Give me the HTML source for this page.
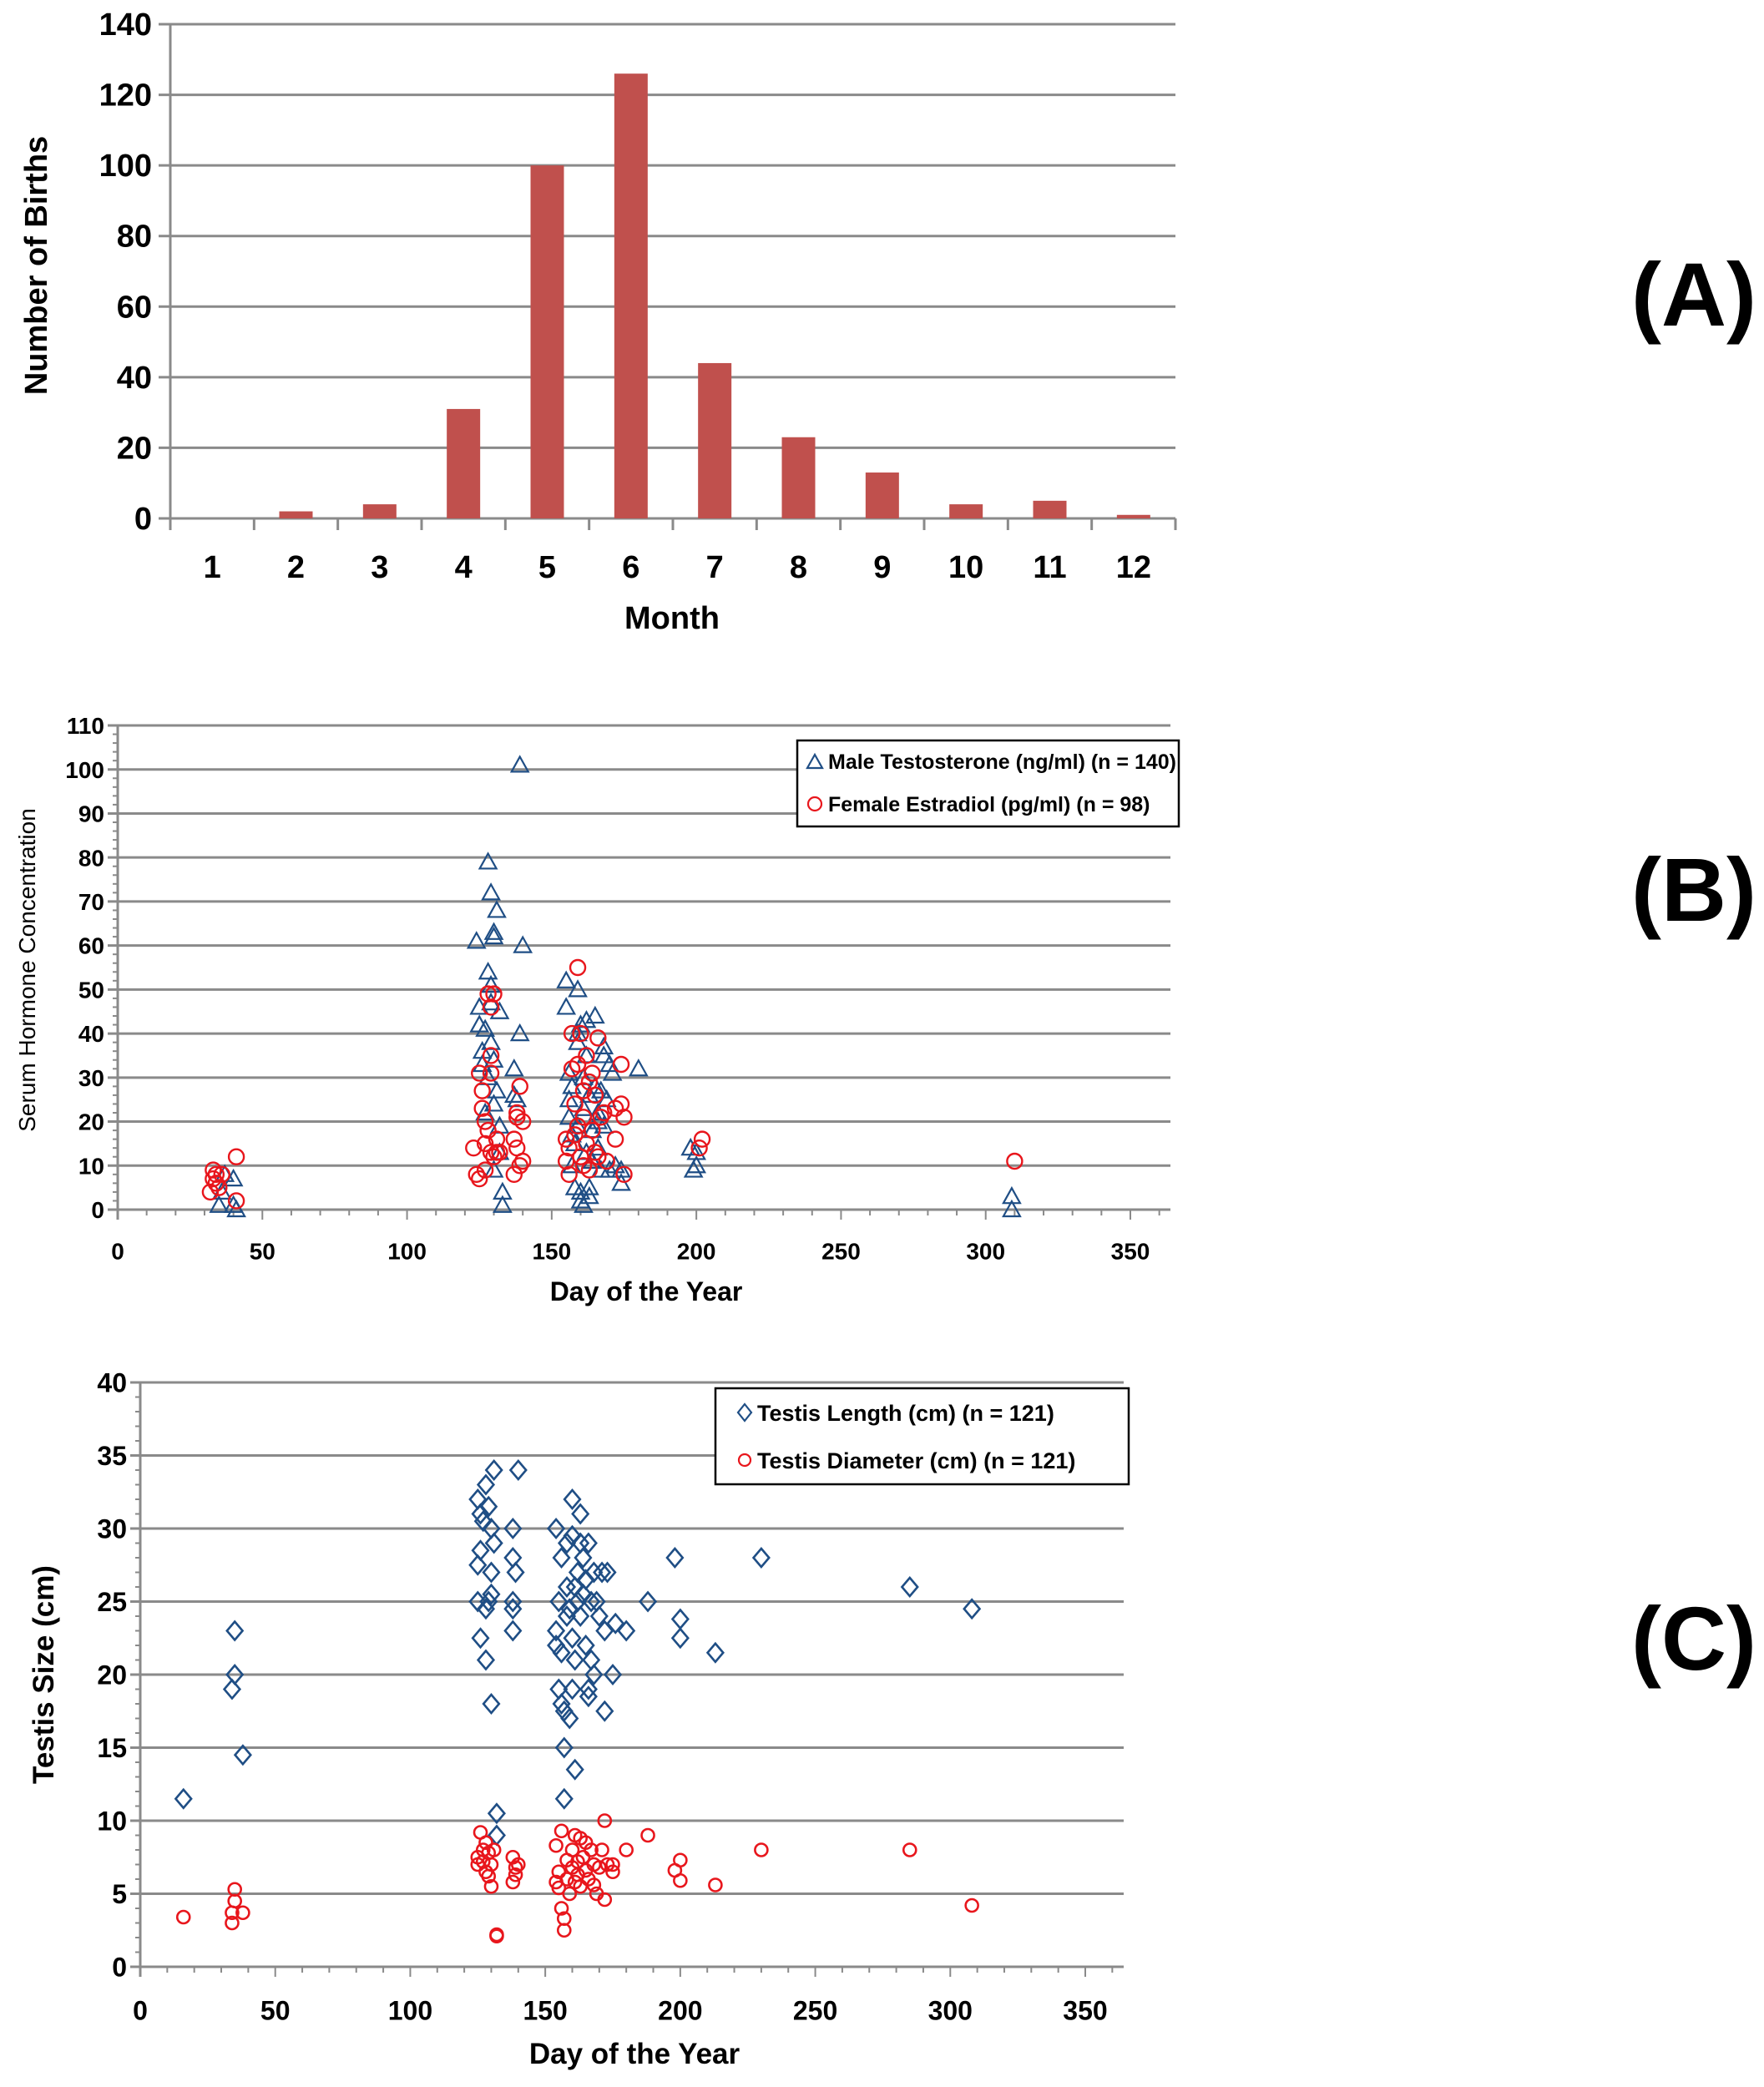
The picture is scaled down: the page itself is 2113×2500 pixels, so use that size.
<!DOCTYPE html>
<html><head><meta charset="utf-8"><style>
html,body{margin:0;padding:0;background:#fff;}
svg{display:block;font-family:"Liberation Sans",sans-serif;}
</style></head><body>
<svg id="fig" width="2113" height="2500" viewBox="0 0 2113 2500" xmlns="http://www.w3.org/2000/svg">
<g id="pa"></g>
<g id="pb"></g>
<g id="pc"></g>
<text x="1954" y="390" font-size="108" font-weight="bold">(A)</text>
<text x="1954" y="1103" font-size="108" font-weight="bold">(B)</text>
<text x="1954" y="2000" font-size="108" font-weight="bold">(C)</text>
</svg>
<script>
// Panel A data
const months = [1,2,3,4,5,6,7,8,9,10,11,12];
const births = [0,2,4,31,100,126,44,23,13,4,5,1];
const aTicks = [0,20,40,60,80,100,120,140];
// Panel B data
const maleT = [[35,1],[36,4],[37,8],[40,7],[40,1],[41,0],[124,61],[125,46],[125,42],[126,36],[126,33],[127,41],[128,54],[128,79],[129,51],[129,47],[129,72],[130,62],[130,63],[131,68],[129,38],[130,34],[131,27],[130,24],[132,45],[132,19],[133,4],[133,1],[132,13],[137,32],[137,26],[138,25],[139,40],[139,101],[140,60],[127,22],[128,30],[130,9],[155,52],[155,46],[156,31],[156,25],[156,21],[157,17],[157,10],[158,5],[159,50],[159,40],[159,38],[160,42],[160,2],[160,4],[161,1],[161,30],[162,43],[162,35],[163,26],[163,5],[163,3],[164,11],[165,44],[165,28],[166,22],[166,20],[167,9],[167,27],[168,37],[168,35],[169,25],[170,33],[170,9],[171,31],[172,10],[174,6],[174,9],[180,32],[158,15],[159,19],[162,13],[164,18],[157,28],[161,23],[166,14],[168,19],[198,14],[199,9],[200,10],[200,13],[309,3],[309,0]];
const femaleE = [[32,4],[33,9],[33,7],[34,6],[34,8],[35,5],[36,8],[41,12],[41,2],[123,14],[124,8],[125,7],[125,31],[126,23],[126,27],[127,20],[127,15],[127,9],[128,49],[128,18],[129,46],[129,13],[129,35],[129,31],[130,49],[130,12],[131,13],[131,16],[132,13],[137,16],[137,8],[138,14],[138,21],[139,28],[139,10],[140,20],[140,11],[138,22],[155,16],[155,11],[156,14],[156,8],[157,32],[157,40],[158,24],[158,17],[159,55],[159,33],[159,19],[160,40],[160,12],[161,27],[161,21],[162,35],[162,15],[163,29],[163,9],[164,31],[164,18],[165,13],[166,39],[166,12],[167,21],[168,22],[169,11],[172,16],[172,23],[174,33],[174,24],[175,21],[175,8],[165,26],[161,10],[201,14],[202,16],[310,11]];
const bYTicks = [0,10,20,30,40,50,60,70,80,90,100,110];
const xTicks = [0,50,100,150,200,250,300,350];
// Panel C data
const tLength = [[16,11.5],[34,19],[35,20],[35,23],[38,14.5],[125,32],[125,27.5],[125,25],[126,28.5],[126,31],[126,22.5],[127,30.5],[128,33],[128,24.5],[128,21],[129,31.5],[129,25],[130,30],[130,27],[130,25.5],[130,18],[131,34],[131,29],[132,10.5],[132,9],[138,30],[138,28],[138,25],[138,24.5],[138,23],[139,27],[140,34],[154,30],[154,23],[154,22],[155,25],[155,19],[156,28],[156,21.5],[156,18],[157,15],[157,11.5],[157,17.5],[158,24],[158,26],[158,29],[159,17],[159,24.5],[160,32],[160,29.5],[160,22.5],[160,19],[161,26],[161,21],[161,13.5],[162,25],[162,27],[163,31],[163,29],[163,24],[164,28],[164,25.5],[165,26.5],[165,22],[166,29],[166,19],[166,18.5],[167,25],[167,21],[168,20],[168,27],[169,25],[170,24],[171,27],[172,23],[172,17.5],[173,27],[175,20],[176,23.5],[180,23],[188,25],[198,28],[200,23.8],[200,22.5],[213,21.5],[230,28],[285,26],[308,24.5]];
const tDiam = [[16,3.4],[34,3],[34,3.7],[35,5.3],[35,4.5],[38,3.7],[125,7.5],[125,7],[126,9.2],[127,8],[127,7.2],[128,8.5],[128,6.5],[129,7.8],[129,6.2],[130,5.5],[130,7],[131,8],[132,2.2],[132,2.1],[138,7.5],[138,5.8],[139,6.8],[139,6.3],[140,7],[154,8.3],[154,5.8],[155,6.5],[155,5.4],[156,9.3],[156,4],[157,3.3],[157,2.5],[158,7.3],[158,6],[159,5],[160,8],[160,6.8],[161,9],[161,5.8],[162,7.2],[162,6.3],[163,8.8],[163,5.5],[164,7.5],[165,6.6],[165,8.5],[166,6],[167,8],[168,5.6],[168,7],[169,5],[170,6.8],[171,8],[172,10],[172,4.6],[173,7],[175,6.5],[175,7],[180,8],[188,9],[198,6.6],[200,7.3],[200,5.9],[213,5.6],[230,8],[285,8],[308,4.2]];
const cYTicks = [0,5,10,15,20,25,30,35,40];

const NS="http://www.w3.org/2000/svg";
function mk(parent,tag,attrs,txt){const e=document.createElementNS(NS,tag);for(const k in attrs)e.setAttribute(k,attrs[k]);if(txt!==undefined)e.textContent=txt;parent.appendChild(e);return e;}
const GRID="#8a8a8a", BLUE="#1f4e85", RED="#e8161c";

// ---------- Panel A ----------
(function(){
const g=document.getElementById('pa');
const L=204,R=1408,T=29,B=621,max=140;
const y=v=>B-(v/max)*(B-T);
const slot=(R-L)/months.length;
const x=i=>L+slot*(i+0.5);
aTicks.forEach(t=>{
  const ln=mk(g,'line',{x1:L-14,x2:R,y1:y(t),y2:y(t),stroke:GRID,'stroke-width':3});
  
  
  const tx=mk(g,'text',{x:L-22,y:y(t)+13,'text-anchor':'end','font-size':38,'font-weight':'bold'},t);
  
  
});
mk(g,'line',{x1:L,x2:L,y1:T,y2:B+14,stroke:GRID,'stroke-width':3});
for(let i=0;i<=months.length;i++){mk(g,'line',{x1:L+slot*i,x2:L+slot*i,y1:B,y2:B+14,stroke:GRID,'stroke-width':3});}
months.forEach((m,i)=>{
  const bw=40;
  const r=mk(g,'rect',{x:x(i)-bw/2,y:y(births[i]),width:bw,height:B-y(births[i]),fill:'#c0504d'});
  
  
  const tx=mk(g,'text',{x:x(i),y:692,'text-anchor':'middle','font-size':38,'font-weight':'bold'},m);
  
  
});
const xt=mk(g,'text',{x:805,y:753,'text-anchor':'middle','font-size':38,'font-weight':'bold'},'Month');


const yt=mk(g,'text',{x:0,y:0,'text-anchor':'middle','font-size':38,'font-weight':'bold',transform:'translate(56,318) rotate(-90)'},'Number of Births');


})();

function scatterAxes(g,L,R,T,B,ymax,yTicks,minorY,xmax,tickFont,xLabOff,suffix){
  const y=v=>B-(v/ymax)*(B-T);
  const x=v=>L+(v/350)*(xmax-L);
  yTicks.forEach(t=>{
    const ln=mk(g,'line',{x1:L-12,x2:R,y1:y(t),y2:y(t),stroke:GRID,'stroke-width':3});
    
    
    const tx=mk(g,'text',{x:L-16,y:y(t)+tickFont*0.36,'text-anchor':'end','font-size':tickFont,'font-weight':'bold'},t);
    
    
  });
  for(let v=0;v<=ymax;v+=minorY){mk(g,'line',{x1:L-6,x2:L,y1:y(v),y2:y(v),stroke:GRID,'stroke-width':2});}
  mk(g,'line',{x1:L,x2:L,y1:T,y2:B+12,stroke:GRID,'stroke-width':3});
  for(let v=0;v<=360;v+=10){mk(g,'line',{x1:x(v),x2:x(v),y1:B,y2:B+(v%50===0?12:7),stroke:GRID,'stroke-width':2});}
  xTicks.forEach(t=>{
    const tx=mk(g,'text',{x:x(t),y:B+tickFont*1.45+xLabOff,'text-anchor':'middle','font-size':tickFont,'font-weight':'bold'},t);
    
    
  });
  return {x,y};
}

// ---------- Panel B ----------
(function(){
const g=document.getElementById('pb');
const L=141,R=1402,T=869,B=1449;
const {x,y}=scatterAxes(g,L,R,T,B,110,bYTicks,2,1354,28,19,'b');
maleT.forEach(p=>{
  const cx=x(p[0]),cy=y(p[1]),s=10;
  const m=mk(g,'polygon',{points:`${cx},${cy-s} ${cx-s},${cy+s*0.8} ${cx+s},${cy+s*0.8}`,fill:'none',stroke:BLUE,'stroke-width':2.2});
  
  
});
femaleE.forEach(p=>{
  const m=mk(g,'circle',{cx:x(p[0]),cy:y(p[1]),r:9,fill:'none',stroke:RED,'stroke-width':2.4});
  
  
});
const xt=mk(g,'text',{x:774,y:1558,'text-anchor':'middle','font-size':32,'font-weight':'bold'},'Day of the Year');


const yt=mk(g,'text',{x:0,y:0,'text-anchor':'middle','font-size':28,transform:'translate(42,1162) rotate(-90)'},'Serum Hormone Concentration');


const lg=mk(g,'g',{});


mk(lg,'rect',{x:955,y:887,width:457,height:103,fill:'#fff',stroke:'#000','stroke-width':2.5});
mk(lg,'polygon',{points:'976,904 967,920 985,920',fill:'none',stroke:BLUE,'stroke-width':2.2});
const t1=mk(lg,'text',{x:992,y:921,'font-size':25,'font-weight':'bold'},'Male Testosterone (ng/ml) (n = 140)');


mk(lg,'circle',{cx:976,cy:963,r:8,fill:'none',stroke:RED,'stroke-width':2.2});
const t2=mk(lg,'text',{x:992,y:972,'font-size':25,'font-weight':'bold'},'Female Estradiol (pg/ml) (n = 98)');


})();

// ---------- Panel C ----------
(function(){
const g=document.getElementById('pc');
const L=168,R=1346,T=1656,B=2356;
const {x,y}=scatterAxes(g,L,R,T,B,40,cYTicks,1,1300,32,17,'c');
tLength.forEach(p=>{
  const cx=x(p[0]),cy=y(p[1]),s=11;
  const m=mk(g,'polygon',{points:`${cx},${cy-s} ${cx+s*0.85},${cy} ${cx},${cy+s} ${cx-s*0.85},${cy}`,fill:'none',stroke:BLUE,'stroke-width':2.6});
  
  
});
tDiam.forEach(p=>{
  const m=mk(g,'circle',{cx:x(p[0]),cy:y(p[1]),r:7.5,fill:'none',stroke:RED,'stroke-width':2.6});
  
  
});
const xt=mk(g,'text',{x:760,y:2472,'text-anchor':'middle','font-size':35,'font-weight':'bold'},'Day of the Year');


const yt=mk(g,'text',{x:0,y:0,'text-anchor':'middle','font-size':35,'font-weight':'bold',transform:'translate(64,2006) rotate(-90)'},'Testis Size (cm)');


const lg=mk(g,'g',{});


mk(lg,'rect',{x:857,y:1663,width:495,height:115,fill:'#fff',stroke:'#000','stroke-width':2.5});
mk(lg,'polygon',{points:'892,1682 900,1692 892,1702 884,1692',fill:'none',stroke:BLUE,'stroke-width':2.2});
const t1=mk(lg,'text',{x:907,y:1702,'font-size':27,'font-weight':'bold'},'Testis Length (cm) (n = 121)');


mk(lg,'circle',{cx:892,cy:1749,r:7,fill:'none',stroke:RED,'stroke-width':2.2});
const t2=mk(lg,'text',{x:907,y:1759,'font-size':27,'font-weight':'bold'},'Testis Diameter (cm) (n = 121)');


})();
</script>
</body></html>
